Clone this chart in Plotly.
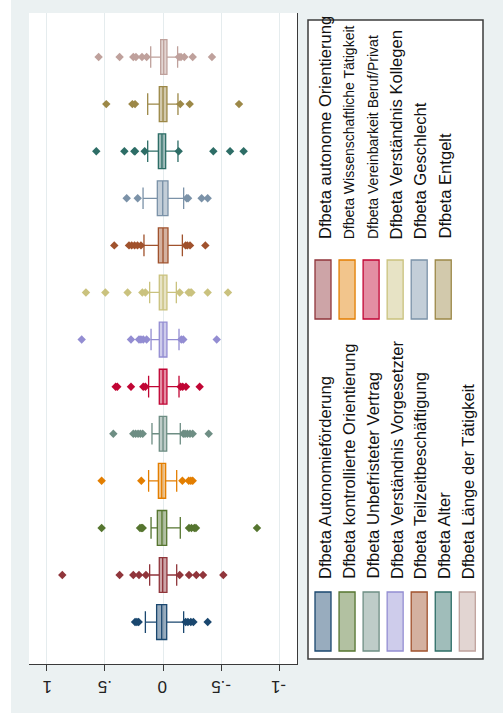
import plotly.graph_objects as go

# Variables, bottom to top
categories = [
    "Dfbeta Autonomieförderung",
    "Dfbeta autonome Orientierung",
    "Dfbeta kontrollierte Orientierung",
    "Dfbeta Wissenschaftliche Tätigkeit",
    "Dfbeta Unbefristeter Vertrag",
    "Dfbeta Vereinbarkeit Beruf/Privat",
    "Dfbeta Verständnis Vorgesetzter",
    "Dfbeta Verständnis Kollegen",
    "Dfbeta Teilzeitbeschäftigung",
    "Dfbeta Geschlecht",
    "Dfbeta Alter",
    "Dfbeta Entgelt",
    "Dfbeta Länge der Tätigkeit",
]

q1 = [-0.032, -0.034, -0.032, -0.023, -0.032, -0.034, -0.034, -0.034, -0.043, -0.043, -0.023, -0.034, -0.034]
median = [0.011, 0.003, 0.009, 0.011, 0.0, 0.0, 0.0, 0.0, 0.0, 0.003, 0.009, 0.0, -0.006]
q3 = [0.055, 0.032, 0.049, 0.040, 0.032, 0.032, 0.032, 0.032, 0.040, 0.049, 0.040, 0.032, 0.020]
lower_whisker = [-0.178, -0.118, -0.149, -0.118, -0.149, -0.138, -0.138, -0.115, -0.167, -0.178, -0.129, -0.129, -0.126]
upper_whisker = [0.152, 0.115, 0.103, 0.124, 0.095, 0.124, 0.103, 0.115, 0.164, 0.172, 0.132, 0.132, 0.106]

outliers = [
    [0.241, 0.225, 0.21, -0.195, -0.215, -0.24, -0.262, -0.385],
    [0.868, 0.374, 0.256, 0.207, 0.147, -0.144, -0.224, -0.287, -0.345, -0.52],
    [0.529, 0.198, 0.185, 0.175, -0.224, -0.245, -0.27, -0.284, -0.81],
    [0.529, 0.187, -0.167, -0.222, -0.24, -0.256],
    [0.428, 0.256, 0.236, 0.215, 0.195, 0.175, -0.175, -0.19, -0.21, -0.233, -0.256, -0.394],
    [0.408, 0.394, 0.276, 0.17, 0.152, -0.152, -0.17, -0.198, -0.316],
    [0.701, 0.276, 0.207, 0.19, 0.17, 0.141, -0.158, -0.175, -0.463],
    [0.664, 0.497, 0.305, 0.178, 0.152, -0.144, -0.22, -0.233, -0.245, -0.385, -0.56],
    [0.42, 0.293, 0.27, 0.245, 0.22, 0.19, -0.195, -0.21, -0.233, -0.365],
    [0.313, 0.218, -0.204, -0.216, -0.333, -0.385],
    [0.575, 0.333, 0.247, 0.241, 0.158, -0.135, -0.434, -0.578, -0.695],
    [0.489, 0.264, 0.241, -0.149, -0.23, -0.655],
    [0.555, 0.374, 0.256, 0.233, 0.181, 0.141, -0.138, -0.155, -0.184, -0.256, -0.422],
]

tick_values = [1, 0.5, 0, -0.5, -1]
tick_labels = ["1", ".5", "0", "-.5", "-1"]

# s2color-like palette
colors = [
    (26, 71, 111), (144, 53, 59), (85, 117, 47), (227, 126, 0), (110, 142, 132),
    (193, 5, 52), (147, 141, 210), (202, 194, 126), (160, 82, 45), (123, 146, 168),
    (45, 109, 102), (156, 136, 71), (191, 161, 156),
]


def rgb(c, a=1.0):
    return f"rgba({c[0]},{c[1]},{c[2]},{a})"


W, H = 503, 713
L, R, T, B = 29, 297, 13, 664  # plot area in pixels


def px2x(px):
    return (px - L) / (R - L)


def py2y(py):
    return (B - py) / (B - T)


fig = go.Figure()
positions = list(range(1, len(categories) + 1))

for i, name in enumerate(categories):
    c = colors[i]
    fig.add_trace(go.Box(
        y=[positions[i]], q1=[q1[i]], median=[median[i]], q3=[q3[i]],
        lowerfence=[lower_whisker[i]], upperfence=[upper_whisker[i]],
        orientation="h", width=0.74, whiskerwidth=0.62,
        fillcolor=rgb(c, 0.45), line=dict(color=rgb(c), width=1.3),
        boxpoints=False, name=name, showlegend=False, hoverinfo="skip",
    ))
    fig.add_trace(go.Scatter(
        x=outliers[i], y=[positions[i]] * len(outliers[i]), mode="markers",
        marker=dict(symbol="diamond", size=6.5, color=rgb(c), line=dict(width=0)),
        showlegend=False, hoverinfo="skip",
    ))

axis_col = "#3a3a3a"
fig.update_xaxes(
    range=[1.155, -1.155], tickvals=tick_values, ticktext=tick_labels,
    showticklabels=False, ticks="outside", ticklen=6, tickwidth=1.2, tickcolor=axis_col,
    showgrid=True, gridcolor="#E5ECEE", gridwidth=1, zeroline=False,
    showline=True, linecolor=axis_col, linewidth=1.4,
)
fig.update_yaxes(
    range=[0.11, 13.935], showticklabels=False, ticks="", showgrid=False,
    zeroline=False, showline=True, side="right", linecolor=axis_col, linewidth=1.4,
)

shapes = []
annotations = []

# upside-down tick labels under the value axis
for v, lab in zip(tick_values, tick_labels):
    annotations.append(dict(
        xref="x", yref="paper", x=v, y=py2y(687), text=lab, textangle=180,
        showarrow=False, xanchor="center", yanchor="middle", borderpad=0,
        font=dict(family="Liberation Sans, Arial", size=17, color="#222"),
    ))

# white strip at the left edge
shapes.append(dict(type="rect", xref="paper", yref="paper",
                   x0=px2x(0), x1=px2x(11), y0=py2y(713), y1=py2y(0),
                   fillcolor="white", line=dict(width=0), layer="below"))

# legend frame
shapes.append(dict(type="rect", xref="paper", yref="paper",
                   x0=px2x(308), x1=px2x(483), y0=py2y(659), y1=py2y(20),
                   fillcolor="white", line=dict(color="#3c3c3c", width=1.5), layer="below"))

# legend entries: odd items in the lower block, even items in the upper block
small_text = {"Dfbeta Wissenschaftliche Tätigkeit", "Dfbeta Vereinbarkeit Beruf/Privat"}
for i, name in enumerate(categories):
    col = i // 2
    lower = (i % 2 == 0)
    c = colors[i]
    sw_left = 315 + 24.05 * col
    sw_top, sw_bot = (592, 651) if lower else (260, 319)
    text_bottom = 580 if lower else 240
    shapes.append(dict(type="rect", xref="paper", yref="paper",
                       x0=px2x(sw_left), x1=px2x(sw_left + 16),
                       y0=py2y(sw_bot), y1=py2y(sw_top),
                       fillcolor=rgb(c, 0.45), line=dict(color=rgb(c), width=1.3)))
    annotations.append(dict(
        xref="paper", yref="paper", x=px2x(325.5 + 23.8 * col), y=py2y(text_bottom),
        text=name, textangle=-90, showarrow=False, xanchor="center", yanchor="bottom",
        borderpad=0,
        font=dict(family="Liberation Sans, Arial", color="#111",
                  size=14 if name in small_text else 16.6),
    ))

fig.update_layout(
    width=W, height=H,
    margin=dict(l=L, r=W - R, t=T, b=H - B),
    paper_bgcolor="#EBF1F2", plot_bgcolor="white",
    shapes=shapes, annotations=annotations, boxmode="overlay",
)

fig.write_html("out.html")
